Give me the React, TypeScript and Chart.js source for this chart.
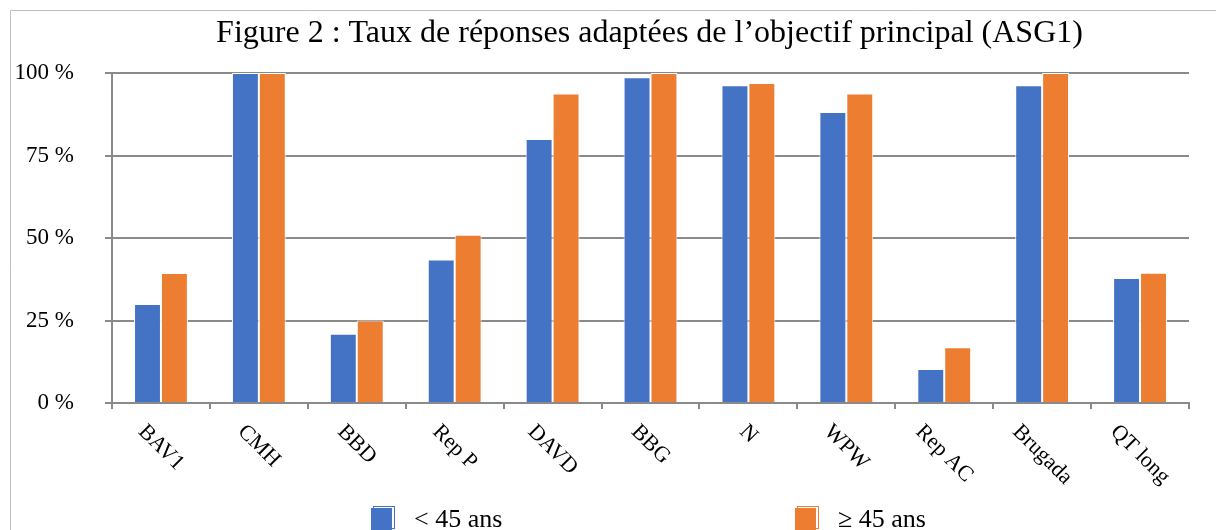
import { useEffect, useRef } from "react";
import { Chart, registerables } from "chart.js";

Chart.register(...registerables);

const TITLE = "Figure 2 : Taux de réponses adaptées de l’objectif principal (ASG1)";
const categories = ["BAV1", "CMH", "BBD", "Rep P", "DAVD", "BBG", "N", "WPW", "Rep AC", "Brugada", "QT long"];
const seriesNames = ["< 45 ans", "≥ 45 ans"];
const under45 = [30, 100, 21, 43.5, 80, 98.7, 96.3, 88.2, 10.3, 96.3, 37.9];
const over45 = [39.4, 100, 25, 51, 93.8, 100, 97, 93.8, 16.9, 100, 39.5];
const yTickValues = [0, 25, 50, 75, 100];
const yTickSuffix = " %";

const BLUE = "#4472C4";
const ORANGE = "#ED7D31";
const GRID = "#8a8a8a";
const SERIF = '"Liberation Serif", "Times New Roman", serif';

const decor = {
  id: "decor",
  beforeDraw(chart: any) {
    const { ctx, width, height } = chart;
    ctx.save();
    ctx.fillStyle = "#ffffff";
    ctx.fillRect(0, 0, width, height);
    ctx.strokeStyle = "#c0c0c0";
    ctx.lineWidth = 1;
    ctx.beginPath();
    ctx.moveTo(10.5, height);
    ctx.lineTo(10.5, 10.5);
    ctx.lineTo(width, 10.5);
    ctx.stroke();
    ctx.restore();
  },
  afterDraw(chart: any) {
    const { ctx } = chart;
    const centerX = 649.5;
    ctx.save();
    ctx.fillStyle = "#000000";
    // title
    ctx.font = `32px ${SERIF}`;
    ctx.textAlign = "center";
    ctx.textBaseline = "alphabetic";
    ctx.fillText(TITLE, centerX, 42);

    // rotated category labels
    const xs = chart.scales.x;
    const axisY = chart.chartArea.bottom;
    ctx.font = `22px ${SERIF}`;
    categories.forEach((label, i) => {
      const px = xs.getPixelForValue(i);
      const w = ctx.measureText(label).width;
      const box = (w + 15) * Math.SQRT1_2;
      ctx.save();
      ctx.translate(px, axisY + 20 + box / 2);
      ctx.rotate(Math.PI / 4);
      ctx.textAlign = "center";
      ctx.textBaseline = "middle";
      ctx.fillText(label, 0, 0);
      ctx.restore();
    });

    // legend
    const colors = [BLUE, ORANGE];
    const itemOffsets = [-278.5, 145.5];
    ctx.font = `26px ${SERIF}`;
    ctx.textAlign = "left";
    ctx.textBaseline = "alphabetic";
    seriesNames.forEach((name, i) => {
      const bx = centerX + itemOffsets[i];
      const by = 506;
      ctx.fillStyle = colors[i];
      ctx.fillRect(bx, by + 2, 21, 22);
      ctx.strokeStyle = colors[i];
      ctx.lineWidth = 1;
      ctx.strokeRect(bx + 2.5, by + 0.5, 21, 22);
      ctx.fillStyle = "#000000";
      ctx.fillText(name, bx + 43, 527);
    });
    ctx.restore();
  },
};

export default function App() {
  const canvasRef = useRef<HTMLCanvasElement | null>(null);

  useEffect(() => {
    if (!canvasRef.current) return;
    const chart = new Chart(canvasRef.current, {
      type: "bar",
      data: {
        labels: categories,
        datasets: [
          {
            label: seriesNames[0],
            data: under45,
            backgroundColor: BLUE,
            borderColor: "#ffffff",
            borderWidth: 1,
            categoryPercentage: 0.55,
            barPercentage: 1,
          },
          {
            label: seriesNames[1],
            data: over45,
            backgroundColor: ORANGE,
            borderColor: "#ffffff",
            borderWidth: 1,
            categoryPercentage: 0.55,
            barPercentage: 1,
          },
        ],
      },
      options: {
        responsive: true,
        maintainAspectRatio: false,
        animation: false,
        layout: { padding: { top: 73, right: 27, bottom: 0, left: 0 } },
        plugins: {
          legend: { display: false },
          title: { display: false },
          tooltip: { enabled: false },
        },
        scales: {
          x: {
            grid: {
              drawOnChartArea: false,
              drawTicks: true,
              tickLength: 6,
              color: GRID,
              lineWidth: 2,
              offset: true,
            },
            border: { display: true, color: GRID, width: 2 },
            ticks: { display: false },
            afterFit: (s: any) => {
              s.height = 127;
            },
          },
          y: {
            min: 0,
            max: 100,
            afterBuildTicks: (s: any) => {
              s.ticks = yTickValues.map((v) => ({ value: v }));
            },
            ticks: {
              padding: 31,
              color: "#000000",
              font: { family: SERIF, size: 23 },
              callback: (v: any) => `${v}${yTickSuffix}`,
            },
            grid: { color: GRID, lineWidth: 2, tickLength: 7 },
            border: { display: true, color: GRID, width: 2 },
            afterFit: (s: any) => {
              s.width = 112;
            },
          },
        },
      },
      plugins: [decor],
    });
    return () => chart.destroy();
  }, []);

  return (
    <div style={{ position: "absolute", left: 0, top: 0, width: 1216, height: 530 }}>
      <canvas ref={canvasRef} />
    </div>
  );
}
